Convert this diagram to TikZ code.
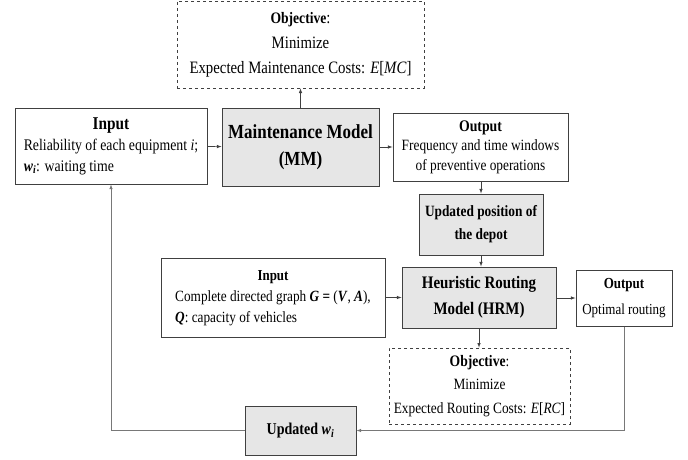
\documentclass[tikz,border=0pt]{standalone}
\usepackage{fontspec}
\usepackage{amsmath}
\setmainfont[FakeStretch=0.85]{Liberation Serif}
\usepackage{tikz}
\definecolor{boxgray}{RGB}{230,230,230}
\definecolor{edgegray}{RGB}{64,64,64}
\definecolor{linegray}{RGB}{120,120,120}
% italic symbols set in the text font
\newcommand{\vit}[1]{\textit{#1}}
\newcommand{\vbf}[1]{\textbf{\textit{#1}}}

\tikzset{
  plainbox/.style={draw=edgegray,line width=1pt,fill=white,inner sep=2pt,font=\fontsize{15.5}{20}\selectfont},
  modelbox/.style={plainbox,fill=boxgray,font=\fontsize{20}{27}\selectfont\bfseries,align=center},
  goalbox/.style={draw=edgegray,line width=0.8pt,dashed,align=center,font=\fontsize{17.4}{25}\selectfont},
  flow/.style={-latex,draw=edgegray,line width=0.6pt},
  back/.style={-latex,draw=linegray,line width=0.6pt}
}

\begin{document}
\begin{tikzpicture}[x=1pt,y=-1pt]
\useasboundingbox (0,0) rectangle (688,460);
% Maintenance part
\node[goalbox,minimum width=247pt,minimum height=87pt] (obj1) at (300.5,44.5)
  {{\fontsize{16}{25}\selectfont\textbf{Objective}}:\\ Minimize\\ Expected Maintenance Costs: \vit{E}[\vit{MC}]};
\node[plainbox,font=\fontsize{16.2}{21}\selectfont,minimum width=192pt,minimum height=76pt] (in1) at (111,146)
  {\begin{tabular}{@{}l@{}}\multicolumn{1}{@{}c@{}}{\fontsize{18}{21}\selectfont\textbf{Input}}\\
   Reliability of each equipment \vit{i};\\ \vbf{w}\textsubscript{\vbf{i}}: waiting time\end{tabular}};
\node[modelbox,minimum width=157pt,minimum height=78pt] (mm) at (300.5,147)
  {Maintenance Model\\ (MM)};
\node[plainbox,align=center,font=\fontsize{15.7}{19.5}\selectfont,minimum width=175pt,minimum height=68pt] (out1) at (480.5,147)
  {{\fontsize{16.2}{19.5}\selectfont\textbf{Output}}\\ Frequency and time windows\\ of preventive operations};
\node[modelbox,font=\fontsize{15.7}{23}\selectfont\bfseries,minimum width=124pt,minimum height=61pt] (dep) at (481,224.5)
  {Updated position of\\ the depot};
% Routing part
\node[modelbox,font=\fontsize{17.6}{26}\selectfont\bfseries,minimum width=154pt,minimum height=61pt] (hrm) at (479,297.5)
  {Heuristic Routing\\ Model (HRM)};
\node[plainbox,font=\fontsize{15.6}{21}\selectfont,minimum width=224pt,minimum height=79pt] (in2) at (273,297.5)
  {\begin{tabular}{@{}l@{}}\multicolumn{1}{@{}c@{}}{\fontsize{15.2}{21}\selectfont\textbf{Input}}\\
   Complete directed graph \vbf{G} \textbf{=} (\vbf{V}, \vbf{A}),\\ \vbf{Q}: capacity of vehicles\end{tabular}};
\node[plainbox,align=center,font=\fontsize{15.3}{26}\selectfont,minimum width=96pt,minimum height=56pt] (out2) at (624,298)
  {\textbf{Output}\\ Optimal routing};
\node[goalbox,minimum width=181pt,minimum height=76pt,font=\fontsize{15.7}{23.5}\selectfont] (obj2) at (479.5,386)
  {{\fontsize{16}{23.5}\selectfont\textbf{Objective}}:\\ Minimize\\ Expected Routing Costs: \vit{E}[\vit{RC}]};
\node[modelbox,font=\fontsize{16.5}{21}\selectfont\bfseries,minimum width=111pt,minimum height=49pt] (upd) at (300.5,430.5)
  {Updated \vbf{w}\textsubscript{\vbf{i}}};
% Arrows
\draw[flow] (in1) -- (mm);
\draw[flow] (mm) -- (obj1);
\draw[flow] (mm.east |- out1.west) -- (out1.west);
\draw[flow] (out1.south -| dep.north) -- (dep.north);
\draw[flow] (dep) -- (dep |- hrm.north);
\draw[flow] (in2.east) -- (hrm.west |- in2.east);
\draw[flow] (hrm.east |- out2.west) -- (out2.west);
\draw[flow] (hrm) -- (hrm |- obj2.north);
% Feedback loop
\coordinate (loopR) at (out2.south |- upd.east);
\coordinate (loopL) at (in1.south |- upd.west);
\draw[back] (out2.south) -- (loopR) -- (upd.east);
\draw[back] (upd.west) -- (loopL) -- (in1.south);
\end{tikzpicture}
\end{document}
